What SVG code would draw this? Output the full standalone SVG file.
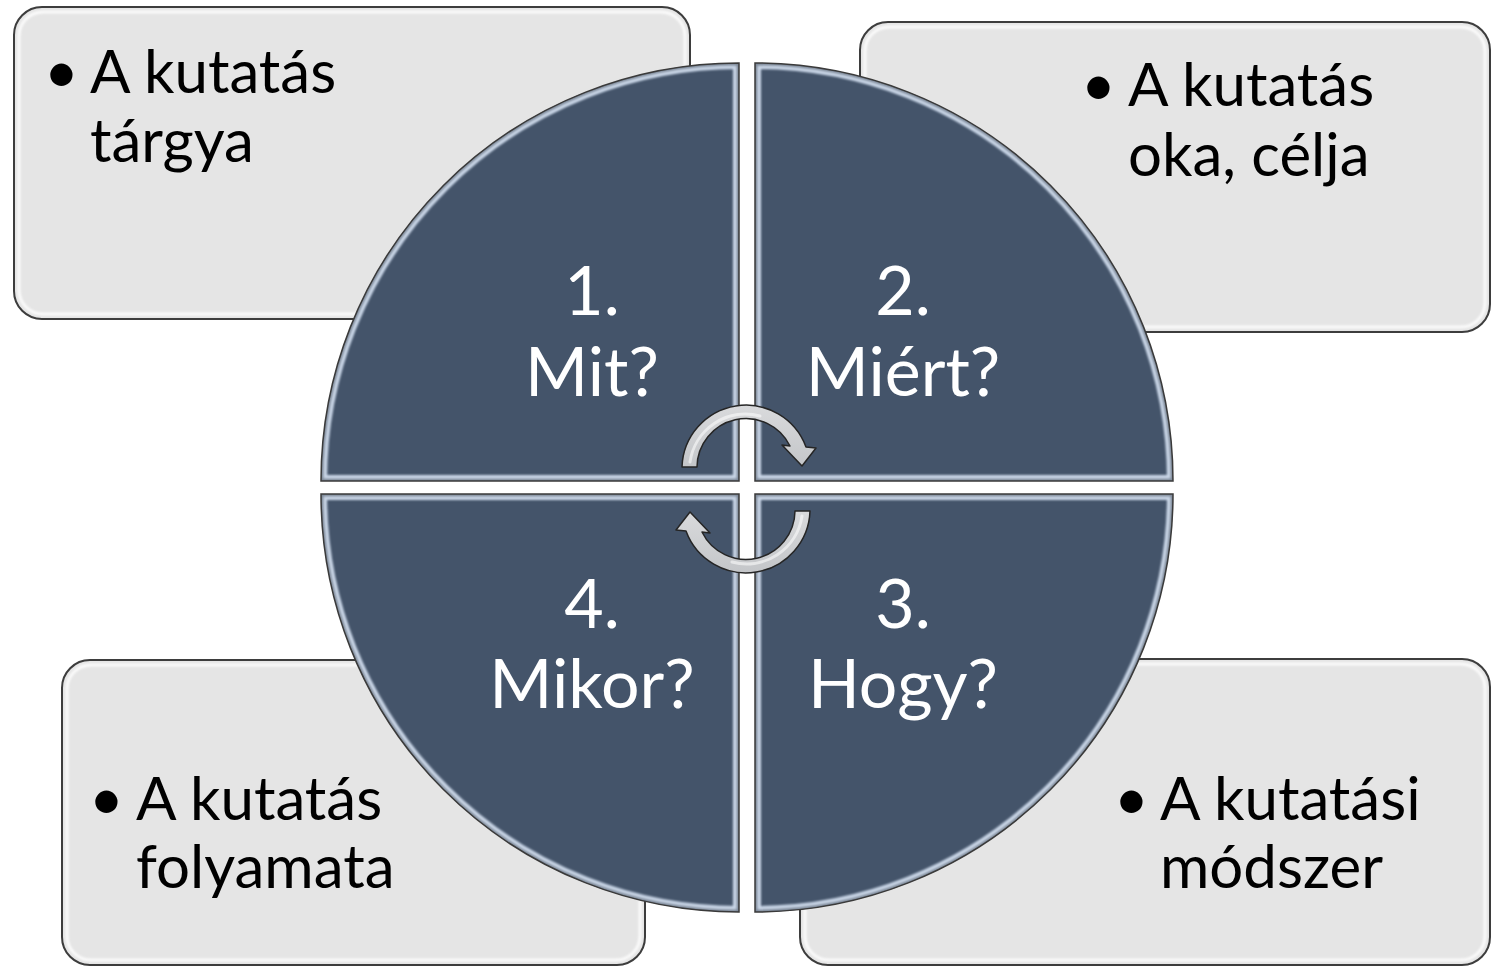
<svg xmlns="http://www.w3.org/2000/svg" xmlns:xlink="http://www.w3.org/1999/xlink" width="1491" height="967" viewBox="0 0 1491 967">
<style>
  .box { fill: #e5e5e5; stroke: #3d3d3d; stroke-width: 2; }
  .boxhl { fill: none; stroke: #ffffff; stroke-width: 3; opacity: 0.85; }
  .btxt { font-family: Lato, "Open Sans", "Liberation Sans", sans-serif; font-size: 60px; fill: #000000; }
  .qfill { fill: #44546a; }
  .bev1 { fill: none; stroke: #cad7e8; stroke-width: 12; }
  .bev2 { fill: none; stroke: #7b8797; stroke-width: 5; }
  .qedge { fill: none; stroke: #3a3a3a; stroke-width: 1.5; }
  .qtxt { font-family: Lato, "Open Sans", "Liberation Sans", sans-serif; font-size: 68px; fill: #ffffff; text-anchor: middle; }
  .arrow { fill: url(#arrowG); stroke: #252525; stroke-width: 1.5; stroke-linejoin: round; }
  .arrowhl { fill: none; stroke: #ffffff; stroke-width: 3; opacity: 0.55; stroke-linecap: round; }
</style>
<defs>
  <filter id="soft" x="-5%" y="-5%" width="110%" height="110%"><feGaussianBlur stdDeviation="1.3"/></filter>
  <linearGradient id="arrowG" x1="0" y1="0" x2="0" y2="1">
    <stop offset="0" stop-color="#d9dadc"/>
    <stop offset="1" stop-color="#c4c6c9"/>
  </linearGradient>
  <path id="q1" d="M 739,481 L 321,481 A 418 418 0 0 1 739,63 Z"/>
  <path id="q2" d="M 755,481 L 755,63 A 418 418 0 0 1 1173,481 Z"/>
  <path id="q3" d="M 755,494 L 1173,494 A 418 418 0 0 1 755,912 Z"/>
  <path id="q4" d="M 739,494 L 739,912 A 418 418 0 0 1 321,494 Z"/>
  <clipPath id="c1"><use xlink:href="#q1"/></clipPath>
  <clipPath id="c2"><use xlink:href="#q2"/></clipPath>
  <clipPath id="c3"><use xlink:href="#q3"/></clipPath>
  <clipPath id="c4"><use xlink:href="#q4"/></clipPath>
</defs>

<rect width="1491" height="967" fill="#ffffff"/>

<!-- Boxes -->
<g id="box-targy">
  <rect class="box" x="14" y="7" width="676" height="312" rx="28"/>
  <rect class="boxhl" x="19" y="12" width="666" height="302" rx="24" filter="url(#soft)"/>
  <text class="btxt" x="44" y="93">•</text>
  <text class="btxt" x="90" y="93">A kutatás</text>
  <text class="btxt" x="90" y="162">tárgya</text>
</g>
<g id="box-cel">
  <rect class="box" x="860" y="22" width="630" height="310" rx="28"/>
  <rect class="boxhl" x="865" y="27" width="620" height="300" rx="24" filter="url(#soft)"/>
  <text class="btxt" x="1081" y="106">•</text>
  <text class="btxt" x="1128" y="106">A kutatás</text>
  <text class="btxt" x="1128" y="176">oka, célja</text>
</g>
<g id="box-folyamat">
  <rect class="box" x="62" y="660" width="583" height="305" rx="28"/>
  <rect class="boxhl" x="67" y="665" width="573" height="295" rx="24" filter="url(#soft)"/>
  <text class="btxt" x="89" y="820">•</text>
  <text class="btxt" x="136" y="820">A kutatás</text>
  <text class="btxt" x="136" y="888">folyamata</text>
</g>
<g id="box-modszer">
  <rect class="box" x="800" y="659" width="690" height="306" rx="28"/>
  <rect class="boxhl" x="805" y="664" width="680" height="296" rx="24" filter="url(#soft)"/>
  <text class="btxt" x="1114" y="820">•</text>
  <text class="btxt" x="1160" y="820">A kutatási</text>
  <text class="btxt" x="1160" y="888">módszer</text>
</g>

<!-- Quadrants -->
<g id="q-mit">
  <use xlink:href="#q1" class="qfill"/>
  <g clip-path="url(#c1)"><g filter="url(#soft)"><use xlink:href="#q1" class="bev1"/><use xlink:href="#q1" class="bev2"/></g></g>
  <use xlink:href="#q1" class="qedge"/>
  <text class="qtxt" x="592" y="315">1.</text>
  <text class="qtxt" x="592" y="396">Mit?</text>
</g>
<g id="q-miert">
  <use xlink:href="#q2" class="qfill"/>
  <g clip-path="url(#c2)"><g filter="url(#soft)"><use xlink:href="#q2" class="bev1"/><use xlink:href="#q2" class="bev2"/></g></g>
  <use xlink:href="#q2" class="qedge"/>
  <text class="qtxt" x="903" y="315">2.</text>
  <text class="qtxt" x="903" y="396">Miért?</text>
</g>
<g id="q-hogy">
  <use xlink:href="#q3" class="qfill"/>
  <g clip-path="url(#c3)"><g filter="url(#soft)"><use xlink:href="#q3" class="bev1"/><use xlink:href="#q3" class="bev2"/></g></g>
  <use xlink:href="#q3" class="qedge"/>
  <text class="qtxt" x="903" y="628">3.</text>
  <text class="qtxt" x="903" y="708">Hogy?</text>
</g>
<g id="q-mikor">
  <use xlink:href="#q4" class="qfill"/>
  <g clip-path="url(#c4)"><g filter="url(#soft)"><use xlink:href="#q4" class="bev1"/><use xlink:href="#q4" class="bev2"/></g></g>
  <use xlink:href="#q4" class="qedge"/>
  <text class="qtxt" x="592" y="628">4.</text>
  <text class="qtxt" x="592" y="708">Mikor?</text>
</g>

<!-- Connectors: cycle arrows -->
<g id="connectors">
  <path class="arrow" d="M 682,467 A 64 64 0 0 1 806,447 L 816,448 L 802,466 L 782,445 L 790,446 A 49 49 0 0 0 697,467 Z"/>
  <path class="arrowhl" d="M 690,462 A 56 56 0 0 1 760,416"/>
  <path class="arrow" d="M 810,511 A 64 64 0 0 1 686,531 L 676,530 L 690,512 L 710,533 L 702,532 A 49 49 0 0 0 795,511 Z"/>
  <path class="arrowhl" d="M 802,516 A 56 56 0 0 1 732,562"/>
</g>
</svg>
